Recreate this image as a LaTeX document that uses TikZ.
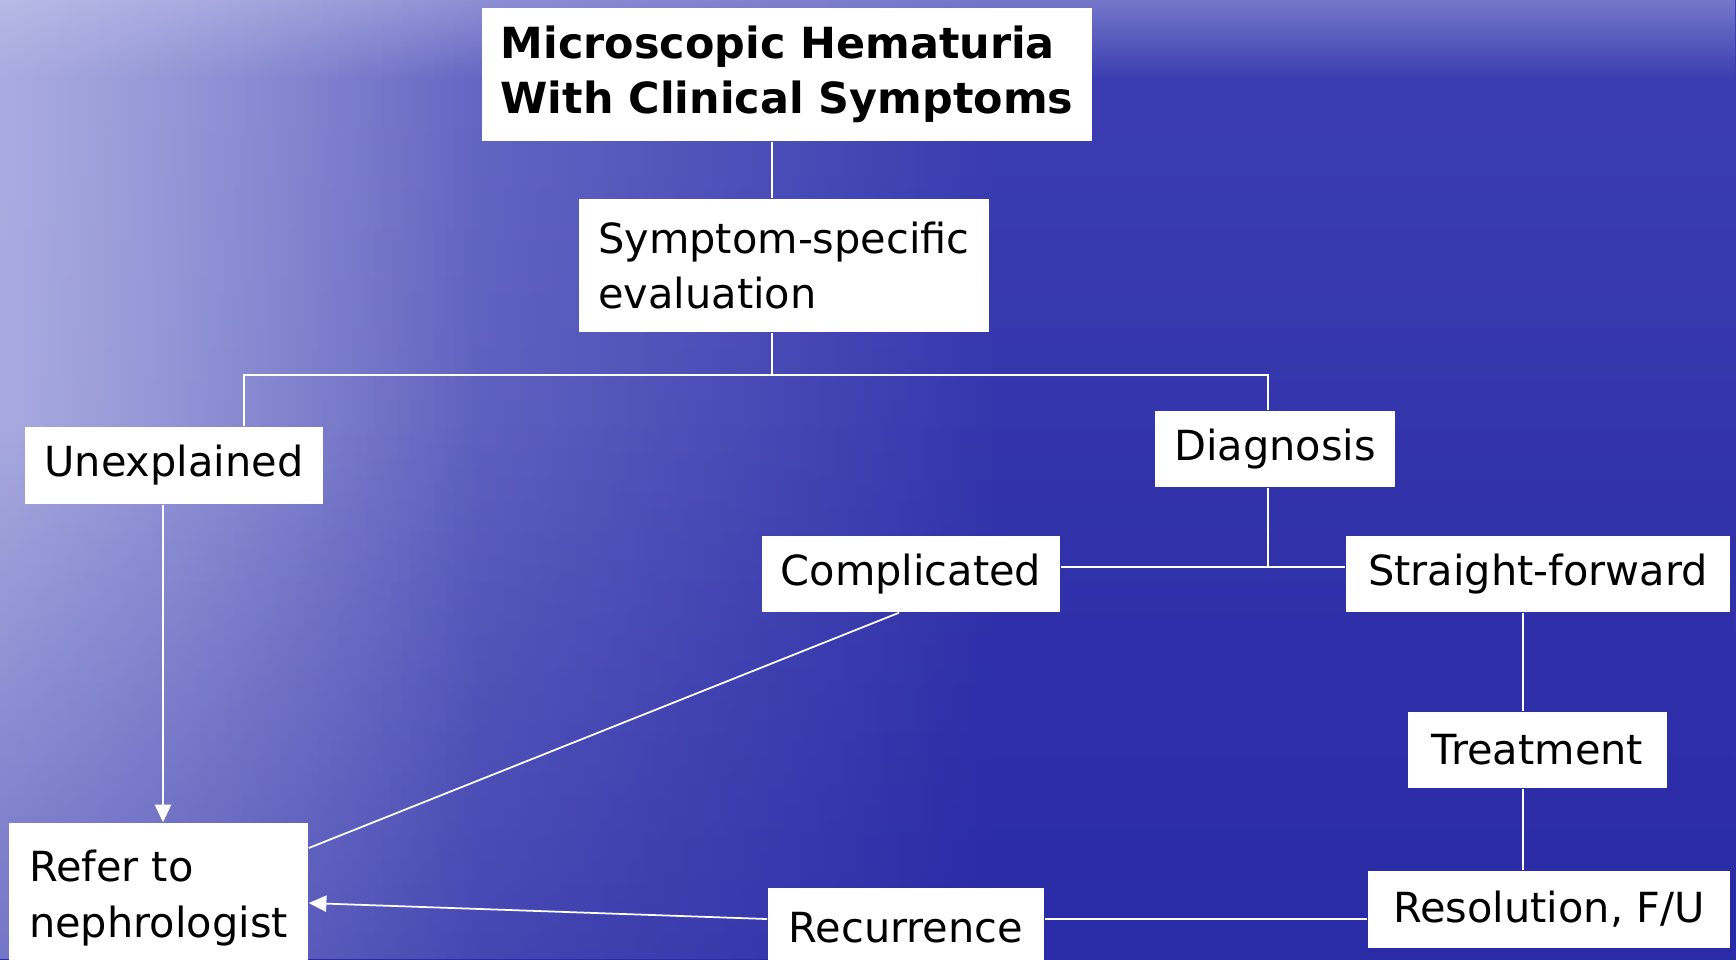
\documentclass[tikz,border=0pt]{standalone}
\usepackage{fontspec}
\setmainfont{DejaVu Sans}
\usetikzlibrary{
  positioning,
  arrows.meta,
  fadings
}
\definecolor{seadeep}{HTML}{2A2BA6}
\definecolor{seatop}{HTML}{3C3EB2}
\definecolor{seamist}{HTML}{CBCDEF}
\tikzfading[name=fade side, left color=transparent!0, right color=transparent!100]
\tikzfading[name=fade rise, top color=transparent!100, bottom color=transparent!0]
\tikzfading[name=fade strip, top color=transparent!0, bottom color=transparent!100]

\begin{document}
\begin{tikzpicture}[
  x=0.01cm, y=-0.01cm,
  flowbox/.style={fill=white, inner sep=0pt, align=left, text=black,
                  font=\fontsize{11.8}{15.9}\selectfont},
  link/.style={white, line width=0.5pt},
  arr/.style={link, -{Triangle[length=5pt, width=4.6pt]}},
]
  % Sea background
  \clip (0,0) rectangle (1736,959);
  \shade[top color=seatop, bottom color=seadeep] (0,0) rectangle (1736,959);
  \fill[seamist, path fading=fade side, fill opacity=0.55] (0,0) rectangle (1000,959);
  \fill[seamist, path fading=fade side, fill opacity=0.5] (0,0) rectangle (480,959);
  \fill[seadeep, path fading=fade rise, fill opacity=0.4] (0,420) rectangle (1736,959);
  \fill[seamist, path fading=fade strip, fill opacity=0.4] (0,0) rectangle (1736,80);

  % Boxes
  \node[flowbox, font=\bfseries\fontsize{12.2}{15.7}\selectfont,
        minimum width=6.10cm, minimum height=1.33cm] (title) at (787,74.5)
        {Microscopic Hematuria\\With Clinical Symptoms};
  \node[flowbox, minimum width=4.10cm, minimum height=1.33cm] (symptom) at (784,265.5)
        {Symptom-specific\\evaluation};
  \node[flowbox, minimum width=2.98cm, minimum height=0.77cm] (unexpl) at (174,465.5) {Unexplained};
  \node[flowbox, minimum width=2.40cm, minimum height=0.76cm] (diag) at (1275,449) {Diagnosis};
  \node[flowbox, minimum width=2.98cm, minimum height=0.76cm] (compl) at (911,574) {Complicated};
  \node[flowbox, minimum width=3.84cm, minimum height=0.76cm] (straight) at (1538,574) {Straight-forward};
  \node[flowbox, minimum width=2.59cm, minimum height=0.76cm] (treat) at (1537.5,750) {Treatment};
  \node[flowbox, minimum width=2.99cm, minimum height=1.50cm] (refer) at (158.5,898)
        {Refer to\\nephrologist};
  \node[flowbox, minimum width=2.76cm, minimum height=0.80cm] (recur) at (906,928) {Recurrence};
  \node[flowbox, minimum width=3.62cm, minimum height=0.77cm] (resol) at (1549,909.5) {Resolution, F/U};

  % Junction points
  \coordinate (trunk) at (772,375);
  \coordinate (lfork) at (244,375);
  \coordinate (rfork) at (1268,375);
  \coordinate (djoin) at (1268,567);
  \coordinate (rdrop) at (1523,0);
  \coordinate (udrop) at (163,0);
  \coordinate (rloop) at (0,919);
  \coordinate (rin) at (0,903);
  \coordinate (cin) at (0,848);

  % Connectors
  \draw[link] (title.south -| trunk) -- (symptom.north -| trunk);
  \draw[link] (symptom.south -| trunk) -- (trunk);
  \draw[link] (unexpl.north -| lfork) -- (lfork) -- (rfork) -- (diag.north -| rfork);
  \draw[link] (diag.south -| djoin) -- (djoin);
  \draw[link] (compl.east |- djoin) -- (straight.west |- djoin);
  \draw[link] (straight.south -| rdrop) -- (treat.north -| rdrop);
  \draw[link] (treat.south -| rdrop) -- (resol.north -| rdrop);
  \draw[link] (resol.west |- rloop) -- (recur.east |- rloop);
  \draw[link] ([xshift=-0.12cm]compl.south) -- (refer.east |- cin);
  \draw[arr] (unexpl.south -| udrop) -- (refer.north -| udrop);
  \draw[arr] (recur.west |- rloop) -- (refer.east |- rin);
\end{tikzpicture}
\end{document}
